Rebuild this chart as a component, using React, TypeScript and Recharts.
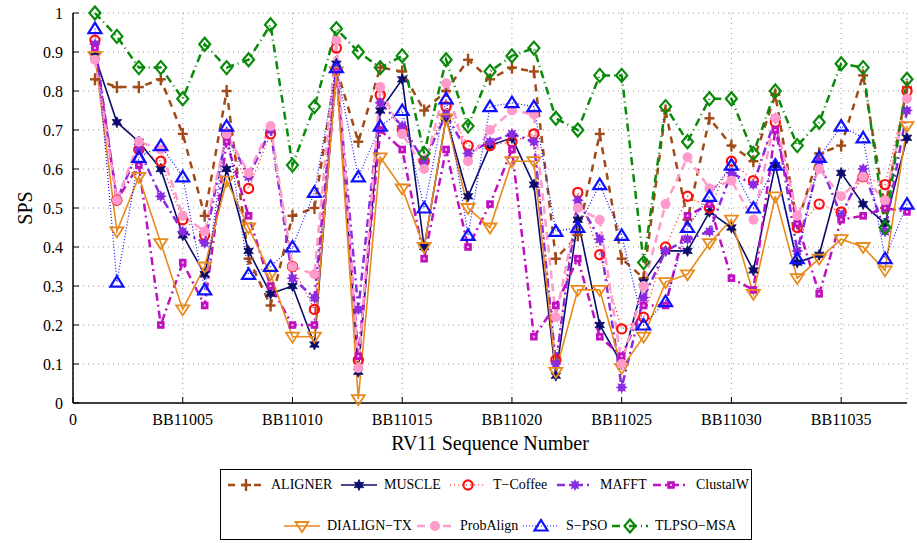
import React from 'react';
import { CartesianGrid, Line, LineChart, XAxis, YAxis } from 'recharts';

// RV11 sequences 1..38
const seqNo = [
  1, 2, 3, 4, 5, 6, 7, 8, 9, 10, 11, 12, 13, 14, 15, 16, 17, 18, 19,
  20, 21, 22, 23, 24, 25, 26, 27, 28, 29, 30, 31, 32, 33, 34, 35, 36, 37, 38,
];
const xTicks = [0, 5, 10, 15, 20, 25, 30, 35];
const xTickLabels = ['0', 'BB11005', 'BB11010', 'BB11015', 'BB11020', 'BB11025', 'BB11030', 'BB11035'];
const yTicks = [0, 0.1, 0.2, 0.3, 0.4, 0.5, 0.6, 0.7, 0.8, 0.9, 1];

const aligner = [
  0.83, 0.81, 0.81, 0.83, 0.69, 0.48, 0.8, 0.37, 0.25, 0.48, 0.5, 0.86, 0.67, 0.86, 0.85, 0.75, 0.8, 0.88, 0.83,
  0.86, 0.85, 0.37, 0.43, 0.69, 0.37, 0.32, 0.75, 0.47, 0.73, 0.66, 0.62, 0.79, 0.46, 0.64, 0.66, 0.84, 0.5, 0.81,
];
const muscle = [
  0.89, 0.72, 0.67, 0.6, 0.43, 0.33, 0.6, 0.39, 0.28, 0.3, 0.15, 0.87, 0.08, 0.75, 0.83, 0.4, 0.73, 0.53, 0.66,
  0.68, 0.56, 0.07, 0.47, 0.2, 0.1, 0.31, 0.39, 0.39, 0.49, 0.45, 0.34, 0.61, 0.36, 0.38, 0.59, 0.51, 0.46, 0.68,
];
const tcoffee = [
  0.93, 0.52, 0.65, 0.62, 0.47, 0.43, 0.69, 0.55, 0.69, 0.35, 0.24, 0.91, 0.11, 0.79, 0.7, 0.62, 0.76, 0.66, 0.66,
  0.67, 0.69, 0.11, 0.54, 0.38, 0.19, 0.22, 0.4, 0.53, 0.5, 0.62, 0.57, 0.72, 0.45, 0.51, 0.49, 0.58, 0.56, 0.8,
];
const mafft = [
  0.92, 0.52, 0.65, 0.53, 0.44, 0.41, 0.69, 0.58, 0.7, 0.32, 0.27, 0.86, 0.24, 0.77, 0.71, 0.62, 0.74, 0.64, 0.67,
  0.69, 0.67, 0.1, 0.52, 0.42, 0.04, 0.27, 0.39, 0.42, 0.44, 0.59, 0.56, 0.73, 0.39, 0.62, 0.48, 0.6, 0.44, 0.75,
];
const clustalw = [
  0.91, 0.52, 0.61, 0.2, 0.36, 0.25, 0.67, 0.48, 0.3, 0.2, 0.2, 0.85, 0.12, 0.7, 0.65, 0.37, 0.65, 0.4, 0.51,
  0.65, 0.17, 0.25, 0.37, 0.17, 0.12, 0.25, 0.25, 0.48, 0.51, 0.32, 0.29, 0.7, 0.46, 0.28, 0.47, 0.48, 0.5, 0.49,
];
const dialign = [
  0.89, 0.44, 0.58, 0.41, 0.24, 0.35, 0.57, 0.45, 0.33, 0.17, 0.17, 0.85, 0.01, 0.63, 0.55, 0.4, 0.73, 0.5, 0.45,
  0.62, 0.62, 0.08, 0.29, 0.29, 0.09, 0.17, 0.31, 0.33, 0.41, 0.47, 0.28, 0.53, 0.32, 0.37, 0.42, 0.4, 0.34, 0.71,
];
const probalign = [
  0.88, 0.52, 0.67, 0.65, 0.48, 0.44, 0.69, 0.59, 0.71, 0.35, 0.33, 0.93, 0.09, 0.81, 0.69, 0.6, 0.82, 0.62, 0.7,
  0.75, 0.74, 0.22, 0.5, 0.47, 0.1, 0.3, 0.51, 0.63, 0.55, 0.57, 0.47, 0.73, 0.48, 0.6, 0.53, 0.58, 0.52, 0.78,
];
const spso = [
  0.96, 0.31, 0.63, 0.66, 0.58, 0.29, 0.71, 0.33, 0.35, 0.4, 0.54, 0.86, 0.58, 0.71, 0.75, 0.5, 0.78, 0.43, 0.76,
  0.77, 0.76, 0.44, 0.45, 0.56, 0.43, 0.2, 0.26, 0.45, 0.53, 0.61, 0.5, 0.61, 0.37, 0.63, 0.71, 0.68, 0.37, 0.51,
];
const tlpso = [
  1.0, 0.94, 0.86, 0.86, 0.78, 0.92, 0.86, 0.88, 0.97, 0.61, 0.76, 0.96, 0.9, 0.86, 0.89, 0.64, 0.88, 0.71, 0.85,
  0.89, 0.91, 0.73, 0.7, 0.84, 0.84, 0.36, 0.76, 0.67, 0.78, 0.78, 0.64, 0.8, 0.66, 0.72, 0.87, 0.86, 0.45, 0.83,
];

const FONT = '"Liberation Serif", "Times New Roman", serif';

type Shape = 'plus' | 'star6' | 'circle' | 'asterisk' | 'square' | 'triDown' | 'dot' | 'triUp' | 'diamond';

const series: { key: string; name: string; color: string; width: number; dash?: string; shape: Shape }[] = [
  { key: 'aligner', name: 'ALIGNER', color: '#A24A17', width: 2.5, dash: '7 6', shape: 'plus' },
  { key: 'muscle', name: 'MUSCLE', color: '#0B0B6B', width: 1.6, shape: 'star6' },
  { key: 'tcoffee', name: 'T\u2212Coffee', color: '#FF1010', width: 1.2, dash: '1 3', shape: 'circle' },
  { key: 'mafft', name: 'MAFFT', color: '#8A2BE2', width: 2.5, dash: '8 4 2 4', shape: 'asterisk' },
  { key: 'clustalw', name: 'ClustalW', color: '#C010C0', width: 2.5, dash: '8 4 2 4', shape: 'square' },
  { key: 'dialign', name: 'DIALIGN\u2212TX', color: '#E8891C', width: 1.6, shape: 'triDown' },
  { key: 'probalign', name: 'ProbAlign', color: '#FF9ACB', width: 2.5, dash: '8 5', shape: 'dot' },
  { key: 'spso', name: 'S\u2212PSO', color: '#1010FF', width: 1.2, dash: '1 2', shape: 'triUp' },
  { key: 'tlpso', name: 'TLPSO\u2212MSA', color: '#0A8A0A', width: 2.5, dash: '8 4 1 4', shape: 'diamond' },
];

const data = seqNo.map((x, i) => ({
  x,
  aligner: aligner[i],
  muscle: muscle[i],
  tcoffee: tcoffee[i],
  mafft: mafft[i],
  clustalw: clustalw[i],
  dialign: dialign[i],
  probalign: probalign[i],
  spso: spso[i],
  tlpso: tlpso[i],
}));

function starPoints(cx: number, cy: number, n: number, ro: number, ri: number, rot = -Math.PI / 2) {
  const pts: string[] = [];
  for (let i = 0; i < n * 2; i++) {
    const r = i % 2 === 0 ? ro : ri;
    const a = rot + (i * Math.PI) / n;
    pts.push(`${(cx + r * Math.cos(a)).toFixed(2)},${(cy + r * Math.sin(a)).toFixed(2)}`);
  }
  return pts.join(' ');
}

function Marker({ shape, cx, cy, color }: { shape: Shape; cx: number; cy: number; color: string }) {
  switch (shape) {
    case 'plus':
      return (
        <g stroke={color} strokeWidth={2.4}>
          <line x1={cx - 5} y1={cy} x2={cx + 5} y2={cy} />
          <line x1={cx} y1={cy - 6} x2={cx} y2={cy + 6} />
        </g>
      );
    case 'star6':
      return <polygon points={starPoints(cx, cy, 6, 5.5, 2.8)} fill={color} stroke={color} strokeWidth={0.8} />;
    case 'circle':
      return <circle cx={cx} cy={cy} r={4.6} fill="none" stroke={color} strokeWidth={2.2} />;
    case 'asterisk':
      return <polygon points={starPoints(cx, cy, 8, 6, 3.5)} fill={color} />;
    case 'square':
      return (
        <g>
          <rect x={cx - 3.8} y={cy - 3.8} width={7.6} height={7.6} fill={color} />
          <rect x={cx - 1} y={cy - 1} width={2} height={2} fill="#f0c0f0" />
        </g>
      );
    case 'triDown':
      return (
        <polygon
          points={`${cx - 6.5},${cy - 4} ${cx + 6.5},${cy - 4} ${cx},${cy + 6}`}
          fill="none"
          stroke={color}
          strokeWidth={1.8}
        />
      );
    case 'dot':
      return <circle cx={cx} cy={cy} r={5} fill={color} />;
    case 'triUp':
      return (
        <polygon
          points={`${cx - 6.5},${cy + 4.5} ${cx + 6.5},${cy + 4.5} ${cx},${cy - 6}`}
          fill="none"
          stroke={color}
          strokeWidth={2.2}
        />
      );
    case 'diamond':
      return (
        <polygon
          points={`${cx},${cy - 6.5} ${cx + 5.5},${cy} ${cx},${cy + 6.5} ${cx - 5.5},${cy}`}
          fill="none"
          stroke={color}
          strokeWidth={2.2}
        />
      );
    default:
      return null;
  }
}

const fmtY = (v: number) => String(Math.round(v * 10) / 10);
const fmtX = (v: number) => xTickLabels[xTicks.indexOf(v)] ?? '';

// legend slots: [left of sample, row]
const legendPos: Record<string, [number, number]> = {
  aligner: [6, 0],
  muscle: [119, 0],
  tcoffee: [228, 0],
  mafft: [335, 0],
  clustalw: [431, 0],
  dialign: [62, 1],
  probalign: [195, 1],
  spso: [301, 1],
  tlpso: [390, 1],
};

function LegendBox() {
  return (
    <div
      style={{
        position: 'absolute',
        left: 220,
        top: 469,
        width: 532,
        height: 71,
        border: '1px solid #000',
        boxSizing: 'border-box',
        background: '#fff',
        fontFamily: FONT,
        fontSize: 14,
      }}
    >
      {series.map((s) => {
        const [left, row] = legendPos[s.key];
        return (
          <div
            key={s.key}
            style={{
              position: 'absolute',
              left,
              top: row === 0 ? 6 : 47,
              display: 'flex',
              alignItems: 'center',
              whiteSpace: 'nowrap',
              height: 18,
            }}
          >
            <svg width={38} height={16} style={{ marginRight: 6 }}>
              <line x1={1} y1={8} x2={37} y2={8} stroke={s.color} strokeWidth={s.width} strokeDasharray={s.dash} />
              <Marker shape={s.shape} cx={19} cy={8} color={s.color} />
            </svg>
            <span>{s.name}</span>
          </div>
        );
      })}
    </div>
  );
}

export default function App() {
  return (
    <div style={{ position: 'absolute', left: 0, top: 0, width: 917, height: 543, background: '#fff' }}>
      <LineChart width={917} height={543} data={data} margin={{ top: 13, right: 10, left: 0, bottom: 0 }}>
        <CartesianGrid stroke="#9a9a9a" strokeDasharray="1 4" />
        <XAxis
          dataKey="x"
          type="number"
          domain={[0, 38]}
          ticks={xTicks}
          tickFormatter={fmtX}
          height={140}
          interval={0}
          axisLine={{ stroke: '#000', strokeWidth: 1.5 }}
          tickLine={{ stroke: '#000' }}
          tickSize={-6}
          tickMargin={17}
          tick={{ fill: '#000', fontSize: 16, fontFamily: FONT }}
          label={{ value: 'RV11 Sequence Number', position: 'insideTop', offset: 33, fill: '#000', fontSize: 20, fontFamily: FONT }}
        />
        <XAxis
          xAxisId="top"
          orientation="top"
          dataKey="x"
          type="number"
          domain={[0, 38]}
          ticks={xTicks}
          height={0}
          mirror
          tickFormatter={() => ''}
          axisLine={{ stroke: '#000', strokeWidth: 1.5 }}
          tickLine={{ stroke: '#000' }}
          tickSize={6}
        />
        <YAxis
          type="number"
          domain={[0, 1]}
          ticks={yTicks}
          tickFormatter={fmtY}
          width={73}
          interval={0}
          axisLine={{ stroke: '#000', strokeWidth: 1.5 }}
          tickLine={{ stroke: '#000' }}
          tickSize={-6}
          tickMargin={16}
          tick={{ fill: '#000', fontSize: 16, fontFamily: FONT }}
          label={{ value: 'SPS', angle: -90, position: 'center', dx: -12, fill: '#000', fontSize: 20, fontFamily: FONT }}
        />
        <YAxis
          yAxisId="right"
          orientation="right"
          type="number"
          domain={[0, 1]}
          ticks={yTicks}
          width={0}
          mirror
          tickFormatter={() => ''}
          axisLine={{ stroke: '#000', strokeWidth: 1.5 }}
          tickLine={{ stroke: '#000' }}
          tickSize={6}
        />
        {series.map((s) => (
          <Line
            key={s.key}
            type="linear"
            dataKey={s.key}
            name={s.name}
            stroke={s.color}
            strokeWidth={s.width}
            strokeDasharray={s.dash}
            isAnimationActive={false}
            activeDot={false}
            dot={(p: any) => <Marker key={`${s.key}-${p.index}`} shape={s.shape} cx={p.cx} cy={p.cy} color={s.color} />}
          />
        ))}
      </LineChart>
      <LegendBox />
    </div>
  );
}
